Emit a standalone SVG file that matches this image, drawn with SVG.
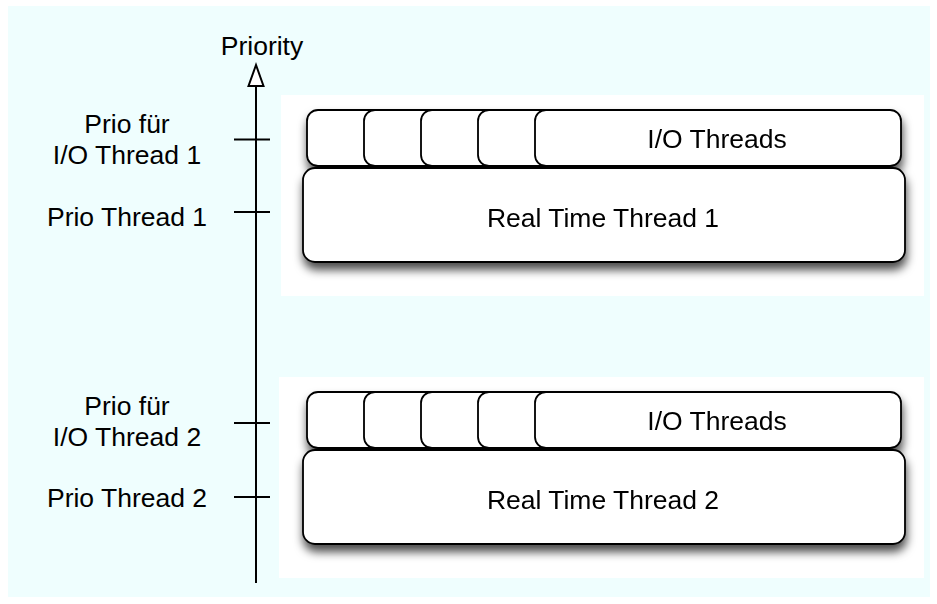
<svg xmlns="http://www.w3.org/2000/svg" width="937" height="604" viewBox="0 0 937 604">
<style>
text{font-family:"Liberation Sans",Arial,Helvetica,sans-serif;font-size:26.5px;fill:#000}
.lbl{text-anchor:middle}
.box{fill:#fff;stroke:#000;stroke-width:1.8}
.panel{fill:#fff}
.ax{stroke:#000;stroke-width:2;fill:none}
</style>
<defs>
<filter id="sh" x="-10%" y="-30%" width="120%" height="170%">
<feDropShadow dx="1" dy="7" stdDeviation="5" flood-color="#000" flood-opacity="0.7"/>
</filter>
</defs>
<rect x="0" y="0" width="937" height="604" fill="#fff"/>
<rect x="8" y="6" width="922" height="591" fill="#effefe"/>
<rect class="panel" x="281" y="95" width="643" height="201"/>
<rect class="panel" x="279" y="377" width="645" height="201"/>

<g id="connectors">
<line class="ax" x1="256" y1="85" x2="256" y2="583"/>
<polygon points="256,65 248.5,86 263.5,86" fill="#fff" stroke="#000" stroke-width="2" stroke-linejoin="miter"/>
<line class="ax" x1="234" y1="139.5" x2="270" y2="139.5"/>
<line class="ax" x1="234" y1="212" x2="270" y2="212"/>
<line class="ax" x1="234" y1="423" x2="270" y2="423"/>
<line class="ax" x1="234" y1="497" x2="270" y2="497"/>
</g>

<g id="axis-label"><text class="lbl" x="262" y="55">Priority</text></g>
<g id="label-io1"><text class="lbl" x="127" y="133">Prio für</text><text class="lbl" x="127" y="164">I/O Thread 1</text></g>
<g id="label-rt1"><text class="lbl" x="127" y="226">Prio Thread 1</text></g>
<g id="label-io2"><text class="lbl" x="127" y="415">Prio für</text><text class="lbl" x="127" y="446">I/O Thread 2</text></g>
<g id="label-rt2"><text class="lbl" x="127" y="507">Prio Thread 2</text></g>

<g id="group1" filter="url(#sh)">
<g id="rt1"><rect class="box" x="303" y="168" width="602" height="94" rx="12"/><text class="lbl" x="603" y="227">Real Time Thread 1</text></g>
<g id="io1">
<rect class="box" x="307" y="110" width="100" height="56" rx="11"/>
<rect class="box" x="364" y="110" width="100" height="56" rx="11"/>
<rect class="box" x="421" y="110" width="100" height="56" rx="11"/>
<rect class="box" x="478" y="110" width="100" height="56" rx="11"/>
<rect class="box" x="535" y="110" width="366" height="56" rx="11"/>
<text class="lbl" x="717" y="148">I/O Threads</text>
</g>
</g>

<g id="group2" filter="url(#sh)">
<g id="rt2"><rect class="box" x="303" y="450" width="602" height="94" rx="12"/><text class="lbl" x="603" y="509">Real Time Thread 2</text></g>
<g id="io2">
<rect class="box" x="307" y="392" width="100" height="56" rx="11"/>
<rect class="box" x="364" y="392" width="100" height="56" rx="11"/>
<rect class="box" x="421" y="392" width="100" height="56" rx="11"/>
<rect class="box" x="478" y="392" width="100" height="56" rx="11"/>
<rect class="box" x="535" y="392" width="366" height="56" rx="11"/>
<text class="lbl" x="717" y="430">I/O Threads</text>
</g>
</g>
</svg>
